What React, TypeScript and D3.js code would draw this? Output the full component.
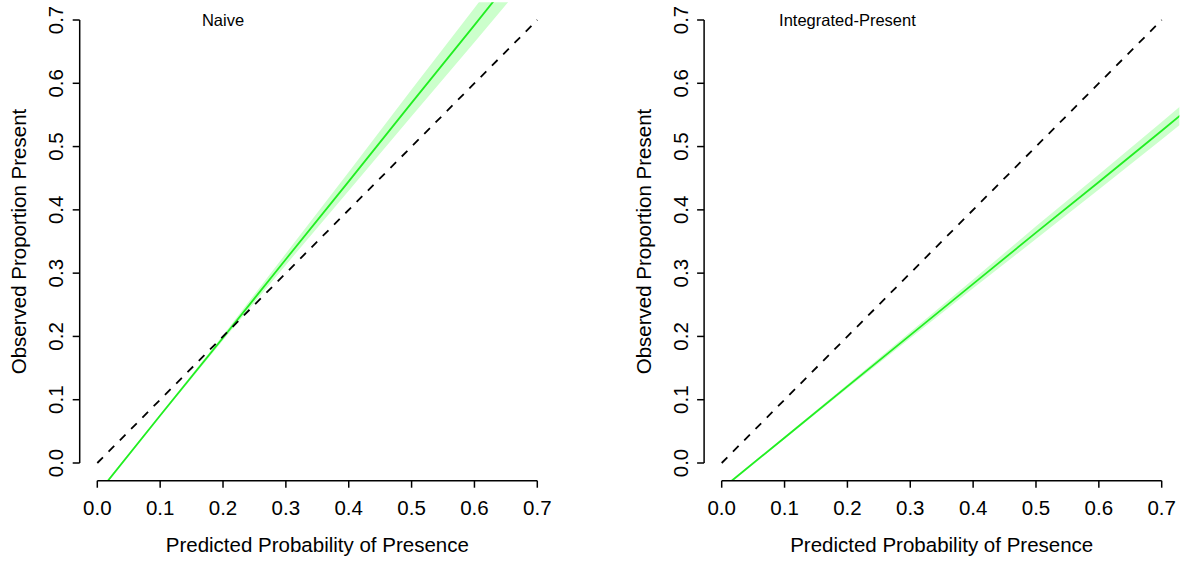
import React from "react";
import * as d3 from "d3";

// calibration curves
const xTicks = [0, 0.1, 0.2, 0.3, 0.4, 0.5, 0.6, 0.7];
const yTicks = [0, 0.1, 0.2, 0.3, 0.4, 0.5, 0.6, 0.7];
const refLine = [0, 0.7];

const predicted = [0, 0.1, 0.2, 0.3, 0.4, 0.5, 0.6, 0.7, 0.75];
const naiveFit = [-0.049, 0.075, 0.198, 0.322, 0.445, 0.569, 0.692, 0.816, 0.877];
const naiveLower = [-0.051, 0.073, 0.194, 0.313, 0.43, 0.548, 0.665, 0.783, 0.841];
const naiveUpper = [-0.047, 0.077, 0.202, 0.331, 0.46, 0.59, 0.719, 0.849, 0.913];
const integratedFit = [-0.041, 0.04, 0.121, 0.202, 0.283, 0.364, 0.444, 0.525, 0.566];
const integratedLower = [-0.043, 0.038, 0.118, 0.197, 0.276, 0.354, 0.432, 0.511, 0.551];
const integratedUpper = [-0.039, 0.042, 0.124, 0.207, 0.29, 0.374, 0.456, 0.539, 0.581];

const titles = ["Naive", "Integrated-Present"];
const xLabel = "Predicted Probability of Presence";
const yLabel = "Observed Proportion Present";

const W = 1181;
const H = 561;
const font = "'Liberation Sans', Arial, Helvetica, sans-serif";

function Panel({ idx, left, title, fit, lower, upper }) {
  const x = d3.scaleLinear().domain([0, 0.7]).range([left, left + 440]);
  const y = d3.scaleLinear().domain([0, 0.7]).range([463, 20]);
  const ext = 0.028;
  const clipId = "clip" + idx;

  const rows = predicted.map((p, i) => ({ p, f: fit[i], lo: lower[i], hi: upper[i] }));
  const band = d3
    .area()
    .x(d => x(d.p))
    .y0(d => y(d.lo))
    .y1(d => y(d.hi));
  const line = d3
    .line()
    .x(d => x(d.p))
    .y(d => y(d.f));
  const diag = d3
    .line()
    .x(d => x(d))
    .y(d => y(d));

  const axisX = x(-ext);
  const axisY = y(-ext);

  return (
    <g>
      <defs>
        <clipPath id={clipId}>
          <rect x={x(-ext)} y={y(0.728)} width={x(0.728) - x(-ext)} height={y(-ext) - y(0.728)} />
        </clipPath>
      </defs>
      <g clipPath={`url(#${clipId})`}>
        <path d={band(rows)} fill="#ccffcc" stroke="none" />
        <path d={line(rows)} fill="none" stroke="#22ee22" strokeWidth={1.8} />
      </g>
      <path d={diag(refLine)} fill="none" stroke="#000" strokeWidth={1.8} strokeDasharray="8,8" />

      {/* x axis */}
      <line x1={x(0)} x2={x(0.7)} y1={axisY} y2={axisY} stroke="#000" strokeWidth={1.5} />
      {xTicks.map(t => (
        <g key={"x" + t}>
          <line x1={x(t)} x2={x(t)} y1={axisY} y2={axisY + 7} stroke="#000" strokeWidth={1.5} />
          <text x={x(t)} y={515} textAnchor="middle" fontSize={20.5} fontFamily={font}>
            {t.toFixed(1)}
          </text>
        </g>
      ))}
      <text x={(x(0) + x(0.7)) / 2} y={552} textAnchor="middle" fontSize={20.5} fontFamily={font}>
        {xLabel}
      </text>

      {/* y axis */}
      <line x1={axisX} x2={axisX} y1={y(0)} y2={y(0.7)} stroke="#000" strokeWidth={1.5} />
      {yTicks.map(t => (
        <g key={"y" + t}>
          <line x1={axisX} x2={axisX - 7} y1={y(t)} y2={y(t)} stroke="#000" strokeWidth={1.5} />
          <text
            transform={`translate(${axisX - 16.5},${y(t)}) rotate(-90)`}
            textAnchor="middle"
            fontSize={20.5}
            fontFamily={font}
          >
            {t.toFixed(1)}
          </text>
        </g>
      ))}
      <text
        transform={`translate(${axisX - 53.5},${(y(0) + y(0.7)) / 2}) rotate(-90)`}
        textAnchor="middle"
        fontSize={20.5}
        fontFamily={font}
      >
        {yLabel}
      </text>

      <text x={x(0.2)} y={y(0.7) + 6} textAnchor="middle" fontSize={16.5} fontFamily={font}>
        {title}
      </text>
    </g>
  );
}

export default function App() {
  return (
    <svg
      width={W}
      height={H}
      style={{ position: "absolute", left: 0, top: 0, background: "#fff" }}
    >
      <rect width={W} height={H} fill="#fff" />
      <Panel idx={0} left={97.3} title={titles[0]} fit={naiveFit} lower={naiveLower} upper={naiveUpper} />
      <Panel
        idx={1}
        left={721.7}
        title={titles[1]}
        fit={integratedFit}
        lower={integratedLower}
        upper={integratedUpper}
      />
    </svg>
  );
}
